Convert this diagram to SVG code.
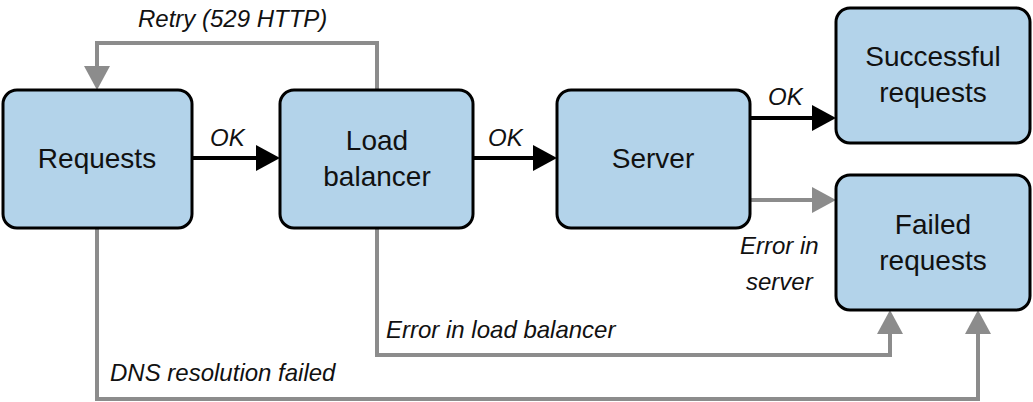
<svg xmlns="http://www.w3.org/2000/svg" width="1033" height="402" viewBox="0 0 1033 402">
<style>
.box{fill:#b3d3ea;stroke:#000;stroke-width:3}
.t{font-family:"Liberation Sans",Arial,sans-serif;font-size:28px;text-anchor:middle;fill:#111}
.l{font-family:"Liberation Sans",Arial,sans-serif;font-size:24px;font-style:italic;fill:#111}
.k{stroke:#000;stroke-width:4;fill:none}
.g{stroke:#8c8c8c;stroke-width:4;fill:none}
</style>
<defs>
<marker id="ak" viewBox="0 0 10 10" refX="9" refY="5" markerWidth="6" markerHeight="6" markerUnits="userSpaceOnUse" orient="auto"><path d="M0,0L10,5L0,10z" fill="#000" transform="scale(1)"/></marker>
<marker id="ag" viewBox="0 0 10 10" refX="9" refY="5" markerWidth="6" markerHeight="6" markerUnits="userSpaceOnUse" orient="auto"><path d="M0,0L10,5L0,10z" fill="#8c8c8c"/></marker>
</defs>
<g id="connectors">
<path class="k" d="M192,158H262"/><path d="M256,145L280,158L256,171z" fill="#000"/>
<path class="k" d="M473,158H540"/><path d="M533,145L557,158L533,171z" fill="#000"/>
<path class="k" d="M750,118H818"/><path d="M812,105L836,118L812,131z" fill="#000"/>
<path class="g" d="M750,200H818"/><path d="M812,187L836,200L812,213z" fill="#8c8c8c"/>
<path class="g" d="M377,90V43H97V72"/><path d="M84,66L97,90L110,66z" fill="#8c8c8c"/>
<path class="g" d="M377,228V355H890V328"/><path d="M877,334L890,310L903,334z" fill="#8c8c8c"/>
<path class="g" d="M97,228V399H978V328"/><path d="M965,334L978,310L991,334z" fill="#8c8c8c"/>
<text class="l" x="210" y="146">OK</text>
<text class="l" x="488" y="146">OK</text>
<text class="l" x="768" y="105">OK</text>
<text class="l" x="740" y="254">Error in</text>
<text class="l" x="746" y="290">server</text>
<text class="l" x="138" y="27">Retry (529 HTTP)</text>
<text class="l" x="386" y="338">Error in load balancer</text>
<text class="l" x="110" y="381">DNS resolution failed</text>
</g>
<g id="requests"><rect class="box" x="3" y="90" width="189" height="138" rx="14"/><text class="t" x="97" y="168">Requests</text></g>
<g id="lb"><rect class="box" x="280" y="90" width="193" height="138" rx="14"/><text class="t" x="377" y="150">Load</text><text class="t" x="377" y="186">balancer</text></g>
<g id="server"><rect class="box" x="557" y="90" width="193" height="138" rx="14"/><text class="t" x="653" y="168">Server</text></g>
<g id="success"><rect class="box" x="836" y="8" width="194" height="135" rx="14"/><text class="t" x="933" y="66">Successful</text><text class="t" x="933" y="102">requests</text></g>
<g id="failed"><rect class="box" x="836" y="175" width="194" height="135" rx="14"/><text class="t" x="933" y="234">Failed</text><text class="t" x="933" y="270">requests</text></g>
</svg>
